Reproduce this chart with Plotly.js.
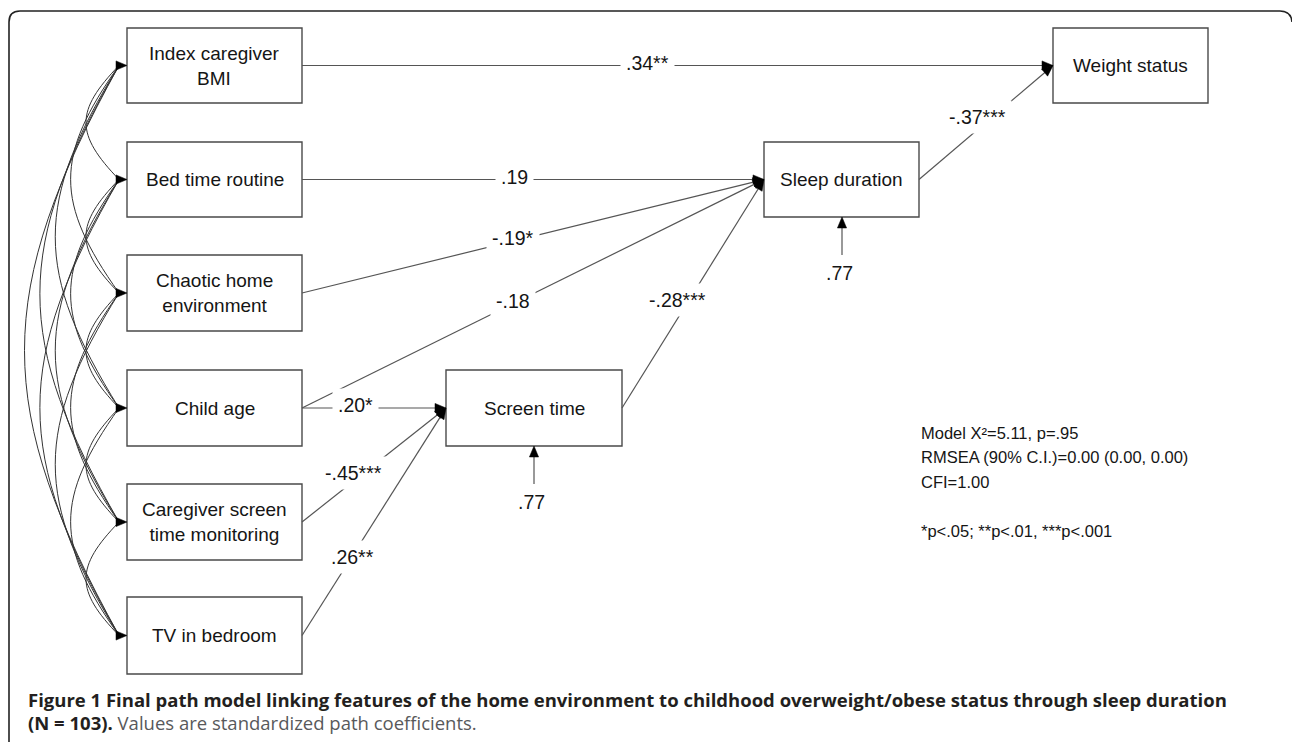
<!DOCTYPE html>
<html><head><meta charset="utf-8">
<script src="https://cdn.plot.ly/plotly-3.0.1.min.js"></script>
<style>html,body{margin:0;padding:0;background:#fff;}#chart{width:1292px;height:742px;}</style>
</head><body><div id="chart"></div>
<script>
// ---------- data ----------
const NODE_LABELS = [
  'Index caregiver<br>BMI',
  'Bed time routine',
  'Chaotic home<br>environment',
  'Child age',
  'Caregiver screen<br>time monitoring',
  'TV in bedroom',
  'Screen time',
  'Sleep duration',
  'Weight status'
];
const PATH_FROM = [0, 1, 2, 3, 6, 7, 3, 4, 5];
const PATH_TO   = [8, 7, 7, 7, 7, 8, 6, 6, 6];
const PATH_COEF = ['.34**', '.19', '-.19*', '-.18', '-.28***', '-.37***', '.20*', '-.45***', '.26**'];
const CORRELATED = [0, 1, 2, 3, 4, 5];
const RESID_NODES = [6, 7];
const RESID_VALUES = ['.77', '.77'];
const FIT_LINES = ['Model X\u00b2=5.11, p=.95', 'RMSEA (90% C.I.)=0.00 (0.00, 0.00)', 'CFI=1.00', '', '*p<.05; **p<.01, ***p<.001'];
const CAPTION_LINE1 = 'Figure 1 Final path model linking features of the home environment to childhood overweight/obese status through sleep duration';
const CAPTION_BOLD2 = '(N = 103).';
const CAPTION_REST2 = ' Values are standardized path coefficients.';

// ---------- layout geometry (positions / styles) ----------
const BOX = [
  [127, 28, 302, 103],
  [127, 142, 302, 217],
  [127, 255, 302, 331],
  [127, 370, 302, 446],
  [127, 484, 302, 560],
  [127, 597, 302, 674],
  [446, 370, 622, 446],
  [764, 142, 919, 217],
  [1053, 28, 1208, 103]
];
const LABEL_T  = [0.46, 0.46, 0.457, 0.457, 0.46, 0.52, 0.37, 0.40, 0.333];
const LABEL_DX = [0, 0, 0, 0, -10, -11, 0, -6, 3];
const RESID_LEN = 38;
const AH_L = 11, AH_W = 4.6;
const LINE_COL = '#555555', BOX_COL = '#4a4a4a', TXT_COL = '#151515';
const FONT = 'Liberation Sans, Arial, sans-serif';

const shapes = [];
const annotations = [];

function cy(b){ return (b[1] + b[3]) / 2; }
function cx(b){ return (b[0] + b[2]) / 2; }
function arrowHead(tx, ty, ux, uy, col){
  const bx = tx - AH_L * ux, by = ty - AH_L * uy;
  const px = -uy, py = ux;
  shapes.push({type:'path', xref:'x', yref:'y',
    path:`M ${tx},${ty} L ${bx + AH_W*px},${by + AH_W*py} L ${bx - AH_W*px},${by - AH_W*py} Z`,
    fillcolor: col || '#000', line:{color: col || '#000', width:0.5}});
}

// frame
shapes.push({type:'path', xref:'x', yref:'y', path:'M 9,745 L 9,22 Q 9,11 20,11 L 1280,11 Q 1291,11 1292,22',
  line:{color:'#222', width:1.6}});

// boxes + labels
BOX.forEach((b, i) => {
  shapes.push({type:'rect', xref:'x', yref:'y', x0:b[0], y0:b[1], x1:b[2], y1:b[3],
    line:{color:BOX_COL, width:1.4}, fillcolor:'rgba(0,0,0,0)'});
  annotations.push({x:cx(b), y:cy(b), xref:'x', yref:'y', text:NODE_LABELS[i], showarrow:false,
    font:{family:FONT, size:19, color:TXT_COL}, align:'center', xanchor:'center', yanchor:'middle'});
});

// correlation curves among exogenous variables
const XC = 119;
for (let a = 0; a < CORRELATED.length; a++) {
  for (let b = a + 1; b < CORRELATED.length; b++) {
    const k = b - a;
    const y0 = cy(BOX[CORRELATED[a]]), y1 = cy(BOX[CORRELATED[b]]);
    const d = y1 - y0;
    const c = 44 + 20.5 * (k - 1);
    const s = 0.40 * d;
    shapes.push({type:'path', xref:'x', yref:'y',
      path:`M ${XC},${y0} C ${XC - c},${y0 + s} ${XC - c},${y1 - s} ${XC},${y1}`,
      line:{color:'#333', width:1}});
  }
}
CORRELATED.forEach(n => arrowHead(BOX[n][0], cy(BOX[n]), 1, 0));

// directed paths
PATH_FROM.forEach((f, i) => {
  const t = PATH_TO[i];
  const x0 = BOX[f][2], y0 = cy(BOX[f]);
  const x1 = BOX[t][0], y1 = cy(BOX[t]);
  const L = Math.hypot(x1 - x0, y1 - y0);
  const ux = (x1 - x0) / L, uy = (y1 - y0) / L;
  shapes.push({type:'line', xref:'x', yref:'y', x0:x0, y0:y0, x1:x1 - ux*AH_L*0.8, y1:y1 - uy*AH_L*0.8,
    line:{color:LINE_COL, width:1.2}});
  arrowHead(x1, y1, ux, uy);
  const lt = LABEL_T[i];
  annotations.push({x:x0 + (x1 - x0)*lt + LABEL_DX[i], y:y0 + (y1 - y0)*lt - 3, xref:'x', yref:'y',
    text:PATH_COEF[i], showarrow:false, bgcolor:'#ffffff', borderpad:5,
    font:{family:FONT, size:19.5, color:TXT_COL}, xanchor:'center', yanchor:'middle'});
});

// residual arrows
RESID_NODES.forEach((n, i) => {
  const b = BOX[n];
  const x = cx(b) + (n === 7 ? 0.5 : 0) ;
  shapes.push({type:'line', xref:'x', yref:'y', x0:x, y0:b[3] + RESID_LEN, x1:x, y1:b[3] + AH_L*0.8,
    line:{color:LINE_COL, width:1.2}});
  arrowHead(x, b[3], 0, -1);
  annotations.push({x:x - 3, y:b[3] + RESID_LEN + 18, xref:'x', yref:'y', text:RESID_VALUES[i], showarrow:false,
    font:{family:FONT, size:19.5, color:TXT_COL}, xanchor:'center', yanchor:'middle'});
});

// fit statistics
FIT_LINES.forEach((s, i) => {
  if (!s) return;
  annotations.push({x:919, y:432.5 + 24.5*i, xref:'x', yref:'y', text:s, showarrow:false,
    font:{family:FONT, size:16.5, color:TXT_COL}, xanchor:'left', yanchor:'middle', align:'left'});
});

// caption
annotations.push({x:26, y:699, xref:'x', yref:'y', text:'<b>' + CAPTION_LINE1 + '</b>', showarrow:false,
  font:{family:'Open Sans, sans-serif', size:18.5, color:'#231f20'}, xanchor:'left', yanchor:'middle'});
annotations.push({x:26, y:722, xref:'x', yref:'y',
  text:'<b>' + CAPTION_BOLD2 + '</b><span style="color:#58595b">' + CAPTION_REST2 + '</span>', showarrow:false,
  font:{family:'Open Sans, sans-serif', size:18.5, color:'#231f20'}, xanchor:'left', yanchor:'middle'});

const layout = {
  width:1292, height:742,
  margin:{l:0, r:0, t:0, b:0},
  paper_bgcolor:'#ffffff', plot_bgcolor:'#ffffff',
  showlegend:false,
  xaxis:{range:[0, 1292], visible:false, fixedrange:true},
  yaxis:{range:[742, 0], visible:false, fixedrange:true},
  shapes:shapes, annotations:annotations
};
const data = [{x:[0], y:[0], mode:'markers', marker:{opacity:0}, hoverinfo:'skip', type:'scatter'}];
Plotly.newPlot('chart', data, layout, {displayModeBar:false, staticPlot:true});
</script></body></html>
